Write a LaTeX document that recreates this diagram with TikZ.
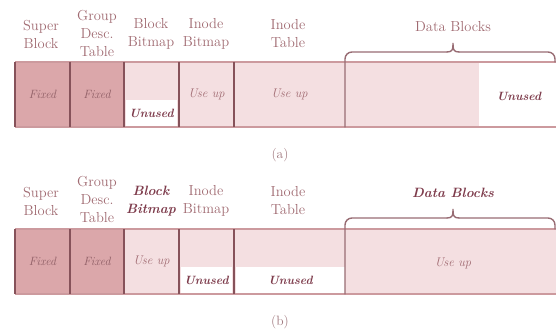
\documentclass[tikz,border=0pt]{standalone}
\definecolor{fixc}{HTML}{DBA7AA}
\definecolor{lightc}{HTML}{F4DFE1}
\definecolor{darkc}{HTML}{86525A}
\definecolor{edgec}{HTML}{CC9A9E}
\definecolor{labc}{HTML}{A06A71}
\definecolor{boldc}{HTML}{7E3C4C}
\begin{document}
\begin{tikzpicture}[x=1pt,y=-1pt,
  cell/.style={inner sep=0pt, outer sep=0pt, anchor=north west, minimum height=65pt},
  hole/.style={inner sep=0pt, outer sep=0pt, anchor=north west, fill=white, minimum height=26pt},
  lbl/.style={text=labc, font=\fontsize{14.5}{18}\selectfont, align=center, inner sep=0pt},
  blbl/.style={text=boldc, font=\fontsize{13.5}{18}\selectfont\bfseries\itshape, align=center, inner sep=0pt},
  fixt/.style={text=labc!90!black, font=\fontsize{12}{12}\selectfont\itshape},
  uset/.style={text=labc, font=\fontsize{12.5}{12}\selectfont\itshape},
  unt/.style={text=boldc, font=\fontsize{12}{12}\selectfont\bfseries\itshape},
  captxt/.style={text=darkc!80, font=\fontsize{13.5}{14}\selectfont},
  div/.style={draw=darkc, line width=1.8pt},
  edge/.style={draw=edgec, line width=1.6pt},
  brace/.style={draw=darkc!85, line width=1.4pt, line cap=round}]
\useasboundingbox (0,0) rectangle (556,331);
% ---------------- (a) ----------------
\node[cell, fill=fixc, minimum width=55pt] (sbA) at (15,62) {};
\node[cell, fill=fixc, minimum width=54pt] (gdA) at (70,62) {};
\node[cell, fill=lightc, minimum width=55pt] (bbA) at (124,62) {};
\node[cell, fill=lightc, minimum width=55pt] (ibA) at (179,62) {};
\node[cell, fill=lightc, minimum width=111pt] (itA) at (234,62) {};
\node[cell, fill=lightc, minimum width=211pt] (dbA) at (345,62) {};
\node[hole, minimum width=51pt] (unbA) at (126,100) {};
\node[hole, minimum width=77pt, minimum height=63pt] (undA) at (479,63) {};
\node[fixt] (fxsA) at (sbA.center) {Fixed};
\node[fixt] (fxgA) at (gdA.center) {Fixed};
\node[unt] (tubA) at (unbA.center) {Unused};
\node[uset] (uiA) at (ibA.center) {Use up};
\node[uset] (utA) at (itA.center) {Use up};
\node[unt] (tudA) at (519,96) {Unused};
\draw[edge] (sbA.north west) -- (dbA.north east);
\draw[edge] (sbA.south west) -- (dbA.south east);
\draw[div] (sbA.north west) -- (sbA.south west);
\draw[div] (gdA.north west) -- (gdA.south west);
\draw[div] (bbA.north west) -- (bbA.south west);
\draw[div] (ibA.north west) -- (ibA.south west);
\draw[div] (itA.north west) -- (itA.south west);
\draw[brace, rounded corners=7pt] (dbA.south west) -- (345,52) -- (447,52);
\draw[brace] (447,52) .. controls (453,52) and (453,49) .. (453,43)
  .. controls (453,49) and (453,52) .. (459,52);
\draw[brace, rounded corners=7pt] (459,52) -- (555,52) -- (555,62);
\node[lbl] (lsA) at (41,34) {Super\\Block};
\node[lbl] (lgA) at (97,33) {Group\\Desc.\\Table};
\node[lbl] (lbA) at (151,34) {Block\\Bitmap};
\node[lbl] (liA) at (206,34) {Inode\\Bitmap};
\node[lbl] (ltA) at (288,34) {Inode\\Table};
\node[lbl] (ldA) at (453,27) {Data Blocks};
\node[captxt] (capA) at (280,155) {(a)};
% ---------------- (b) ----------------
\node[cell, fill=fixc, minimum width=55pt] (sbB) at (15,229) {};
\node[cell, fill=fixc, minimum width=54pt] (gdB) at (70,229) {};
\node[cell, fill=lightc, minimum width=55pt] (bbB) at (124,229) {};
\node[cell, fill=lightc, minimum width=55pt] (ibB) at (179,229) {};
\node[cell, fill=lightc, minimum width=111pt] (itB) at (234,229) {};
\node[cell, fill=lightc, minimum width=211pt] (dbB) at (345,229) {};
\node[hole, minimum width=51pt] (uniB) at (181,267) {};
\node[hole, minimum width=109pt] (untB) at (236,267) {};
\node[fixt] (fxsB) at (sbB.center) {Fixed};
\node[fixt] (fxgB) at (gdB.center) {Fixed};
\node[uset] (ubB) at (bbB.center) {Use up};
\node[unt] (tuiB) at (uniB.center) {Unused};
\node[unt] (tutB) at (untB.center) {Unused};
\node[uset] (udB) at (453,263) {Use up};
\draw[edge] (sbB.north west) -- (dbB.north east);
\draw[edge] (sbB.south west) -- (dbB.south east);
\draw[div] (sbB.north west) -- (sbB.south west);
\draw[div] (gdB.north west) -- (gdB.south west);
\draw[div] (bbB.north west) -- (bbB.south west);
\draw[div] (ibB.north west) -- (ibB.south west);
\draw[div] (itB.north west) -- (itB.south west);
\draw[brace, rounded corners=7pt] (dbB.south west) -- (345,218) -- (447,218);
\draw[brace] (447,218) .. controls (453,218) and (453,215) .. (453,209)
  .. controls (453,215) and (453,218) .. (459,218);
\draw[brace, rounded corners=7pt] (459,218) -- (555,218) -- (555,229);
\node[lbl] (lsB) at (41,201) {Super\\Block};
\node[lbl] (lgB) at (97,199) {Group\\Desc.\\Table};
\node[blbl] (lbB) at (151,201) {Block\\Bitmap};
\node[lbl] (liB) at (206,201) {Inode\\Bitmap};
\node[lbl] (ltB) at (288,201) {Inode\\Table};
\node[blbl] (ldB) at (453,193) {Data Blocks};
\node[captxt] (capB) at (280,322) {(b)};
\end{tikzpicture}
\end{document}
